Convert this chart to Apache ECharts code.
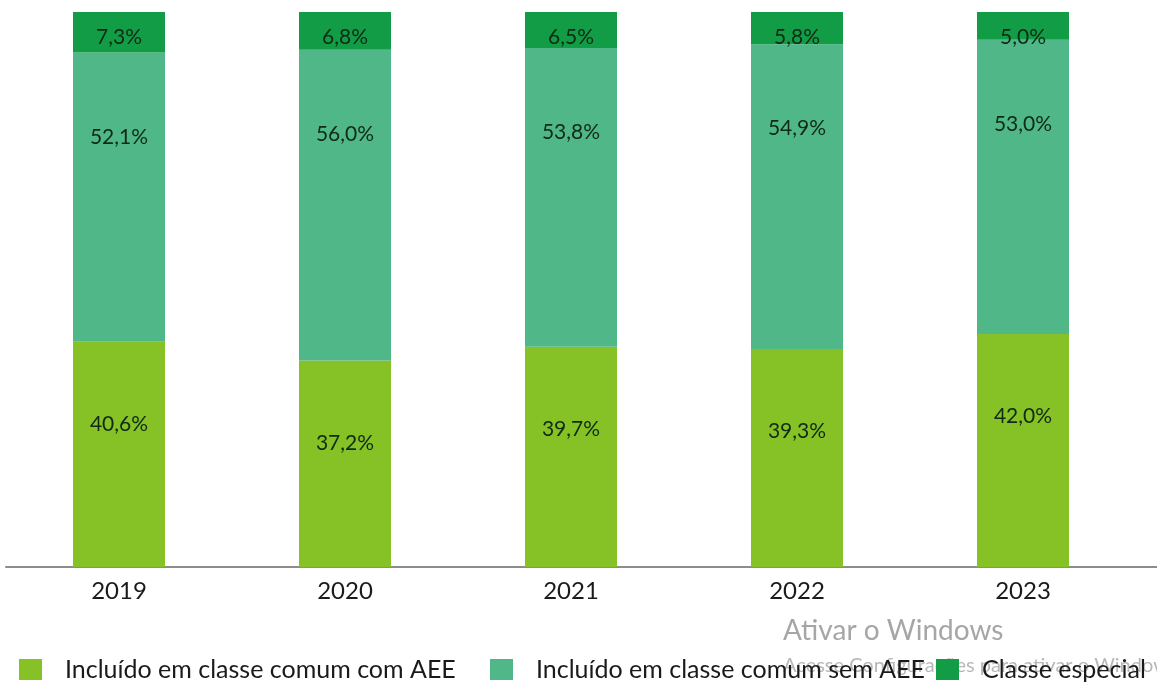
<!DOCTYPE html>
<html>
<head>
<meta charset="utf-8">
<script src="https://cdn.jsdelivr.net/npm/echarts@6/dist/echarts.min.js"></script>
<style>html,body{margin:0;padding:0;background:#fff;}#c{width:1157px;height:685px;}</style>
</head>
<body>
<div id="c"></div>
<script>
const categories = ['2019', '2020', '2021', '2022', '2023'];
const seriesNames = ['Incluído em classe comum com AEE', 'Incluído em classe comum sem AEE', 'Classe especial'];
const comAEE = [40.6, 37.2, 39.7, 39.3, 42.0];
const semAEE = [52.1, 56.0, 53.8, 54.9, 53.0];
const especial = [7.3, 6.8, 6.5, 5.8, 5.0];
const colors = ['#86c226', '#50b888', '#139c46'];

const FONT = 'Lato, "Open Sans", sans-serif';
const fmt = p => p.value.toFixed(1).replace('.', ',') + '%';

const chart = echarts.init(document.getElementById('c'));
function lbl(dist) {
  return { show: true, position: 'insideTop', distance: dist, formatter: fmt,
           color: '#102a16', fontSize: 21, fontFamily: FONT };
}
function legendAt(name, left) {
  return { data: [name], left: left, top: 652, itemWidth: 23, itemHeight: 21,
           icon: 'rect', textStyle: { fontSize: 25, fontFamily: FONT, color: '#1a1a1a', padding: [0, 0, 0, 18] } };
}
chart.setOption({
  animation: false,
  color: colors,
  grid: { left: 6, width: 1130, top: 12, bottom: 118 },
  legend: [legendAt(seriesNames[0], 14), legendAt(seriesNames[1], 485), legendAt(seriesNames[2], 931)],
  xAxis: {
    type: 'category', data: categories,
    axisLine: { lineStyle: { color: '#8c8c8c', width: 2 } },
    axisTick: { show: false },
    axisLabel: { fontSize: 24, fontFamily: FONT, color: '#1a1a1a', margin: 12 }
  },
  yAxis: { type: 'value', min: 0, max: 100, show: false, splitLine: { show: false } },
  graphic: [
    { type: 'line', shape: { x1: 1136, y1: 567, x2: 1157, y2: 567 }, style: { stroke: '#8c8c8c', lineWidth: 2 } },
    { type: 'text', left: 783, top: 617, z: -1, style: { text: 'Ativar o Windows', fontSize: 28, fontFamily: FONT, fill: '#a6a6a6' } },
    { type: 'text', left: 783, top: 656, z: -1, style: { text: 'Acesse Configurações para ativar o Windows.', fontSize: 20, fontFamily: FONT, fill: '#b8b8b8' } }
  ],
  series: [
    { name: seriesNames[0], type: 'bar', stack: 't', data: comAEE, barWidth: 92, label: lbl(72) },
    { name: seriesNames[1], type: 'bar', stack: 't', data: semAEE, barWidth: 92, label: lbl(74) },
    { name: seriesNames[2], type: 'bar', stack: 't', data: especial, barWidth: 92, label: lbl(15) }
  ]
});
</script>
</body>
</html>
